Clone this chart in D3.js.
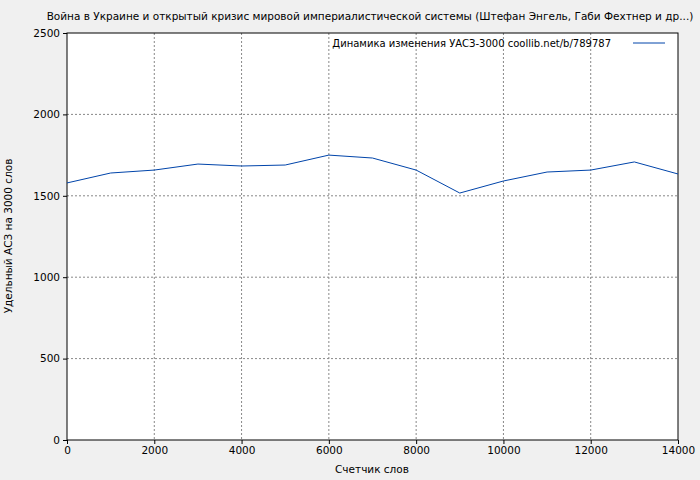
<!DOCTYPE html>
<html><head><meta charset="utf-8">
<script src="https://cdn.jsdelivr.net/npm/d3@7"></script>
<style>body{margin:0;background:#f0f0f0}text{font-family:"DejaVu Sans",sans-serif;font-size:10.5px;fill:#000}</style>
</head><body><svg id="c" width="700" height="480"></svg>
<script>
const xValues=[0,1000,2000,3000,4000,5000,6000,7000,8000,9000,10000,11000,12000,13000,14000];
const yValues=[1579,1640,1658,1695,1683,1689,1750,1732,1658,1517,1591,1646,1658,1708,1634];
const xTicks=[0,2000,4000,6000,8000,10000,12000,14000];
const yTicks=[0,500,1000,1500,2000,2500];
const title="Война в Украине и открытый кризис мировой империалистической системы (Штефан Энгель, Габи Фехтнер и др...)";
const legend="Динамика изменения УАСЗ-3000 coollib.net/b/789787";
const svg=d3.select("#c");
svg.append("rect").attr("width",700).attr("height",480).attr("fill","#f0f0f0");
const m={l:67,r:678,t:33,b:440};
const x=d3.scaleLinear().domain([0,14000]).range([m.l,m.r]);
const y=d3.scaleLinear().domain([0,2500]).range([m.b,m.t]);
svg.append("rect").attr("x",m.l).attr("y",m.t).attr("width",m.r-m.l).attr("height",m.b-m.t).attr("fill","#fff");
const g=svg.append("g");
xTicks.forEach(t=>{if(t>0&&t<14000)g.append("line").attr("x1",x(t)).attr("x2",x(t)).attr("y1",m.t).attr("y2",m.b).attr("stroke","#888").attr("stroke-dasharray","2,2");});
yTicks.forEach(t=>{if(t>0&&t<2500)g.append("line").attr("x1",m.l).attr("x2",m.r).attr("y1",y(t)).attr("y2",y(t)).attr("stroke","#888").attr("stroke-dasharray","2,2");});
svg.append("rect").attr("x",m.l).attr("y",m.t).attr("width",m.r-m.l).attr("height",m.b-m.t).attr("fill","none").attr("stroke","#000");
const xa=svg.append("g").attr("transform",`translate(0,${m.b})`).call(d3.axisBottom(x).tickValues(xTicks).tickSize(4).tickFormat(d3.format("d")));
const ya=svg.append("g").attr("transform",`translate(${m.l},0)`).call(d3.axisLeft(y).tickValues(yTicks).tickSize(4).tickFormat(d3.format("d")));
[xa,ya].forEach(a=>{a.select(".domain").remove();a.selectAll("text").style("font-family","DejaVu Sans").style("font-size","10.5px");});
svg.append("path").datum(xValues.map((v,i)=>[v,yValues[i]])).attr("fill","none").attr("stroke","#0044aa").attr("stroke-width",1)
 .attr("d",d3.line().x(d=>x(d[0])).y(d=>y(d[1])));
svg.append("text").attr("x",370).attr("y",20).attr("text-anchor","middle").text(title);
svg.append("text").attr("x",372).attr("y",473).attr("text-anchor","middle").text("Счетчик слов");
svg.append("text").attr("transform","translate(12,236) rotate(-90)").attr("text-anchor","middle").text("Удельный АСЗ на 3000 слов");
svg.append("text").attr("x",611).attr("y",47).attr("text-anchor","end").style("font-size","10px").text(legend);
svg.append("line").attr("x1",633).attr("x2",665).attr("y1",43).attr("y2",43).attr("stroke","#0044aa");
</script></body></html>
